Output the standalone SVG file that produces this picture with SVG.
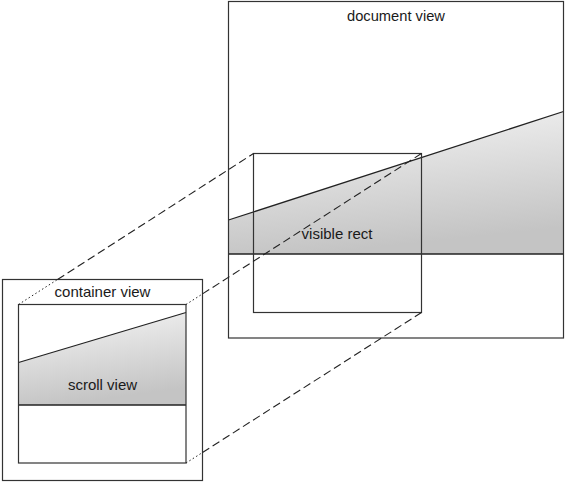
<svg xmlns="http://www.w3.org/2000/svg" width="566" height="483" viewBox="0 0 566 483">
  <defs>
    <linearGradient id="g" x1="0" y1="0" x2="0.25" y2="1">
      <stop offset="0" stop-color="#f6f6f6"/>
      <stop offset="1" stop-color="#c4c4c4"/>
    </linearGradient>
    <style>
      .box { fill: none; stroke: #333; stroke-width: 1.2; }
      .ln { fill: none; stroke: #222; stroke-width: 1.3; }
      .sh { fill: url(#g); stroke: none; }
      .dash { fill: none; stroke: #222; stroke-width: 1.1; stroke-dasharray: 8 4; }
      .dot { fill: none; stroke: #222; stroke-width: 1; stroke-dasharray: 1.5 2.5; }
      text { font-family: "Liberation Sans", Arial, sans-serif; fill: #1a1a1a; text-anchor: middle; }
    </style>
  </defs>
  <rect width="566" height="483" fill="#fff"/>

  <g id="document-view">
    <polygon class="sh" points="228.5,220 563.5,111.5 563.5,254 228.5,254"/>
    <line class="ln" x1="228.5" y1="220" x2="563.5" y2="111.5"/>
    <line class="ln" x1="228.5" y1="254" x2="563.5" y2="254"/>
    <rect class="box" x="228.5" y="1.5" width="335" height="336.5"/>
    <text x="396" y="21" font-size="14.7">document view</text>
  </g>

  <g id="visible-rect">
    <rect class="box" x="253.5" y="153.5" width="168" height="159"/>
    <text x="337" y="239" font-size="15">visible rect</text>
  </g>

  <g id="container-view">
    <rect class="box" x="2.5" y="279.5" width="200" height="201"/>
    <text x="102.5" y="297" font-size="15">container view</text>
  </g>

  <g id="scroll-view">
    <polygon class="sh" points="18.5,362.5 186,312.5 186,405 18.5,405"/>
    <line class="ln" x1="18.5" y1="362.5" x2="186" y2="312.5"/>
    <line class="ln" x1="18.5" y1="405" x2="186" y2="405"/>
    <rect class="box" x="18.5" y="304.5" width="167.5" height="158.5"/>
    <text x="102.5" y="390" font-size="15">scroll view</text>
  </g>

  <g id="connectors">
    <line class="dot" x1="18.5" y1="304.5" x2="57.5" y2="279.5"/>
    <line class="dash" x1="57.5" y1="279.5" x2="253.5" y2="153.5"/>
    <line class="dot" x1="186" y1="304.5" x2="202.5" y2="293.9"/>
    <line class="dash" x1="202.5" y1="293.9" x2="421.5" y2="153.5"/>
    <line class="dot" x1="186" y1="463" x2="202.5" y2="452.5"/>
    <line class="dash" x1="202.5" y1="452.5" x2="421.5" y2="312.5"/>
  </g>
</svg>
